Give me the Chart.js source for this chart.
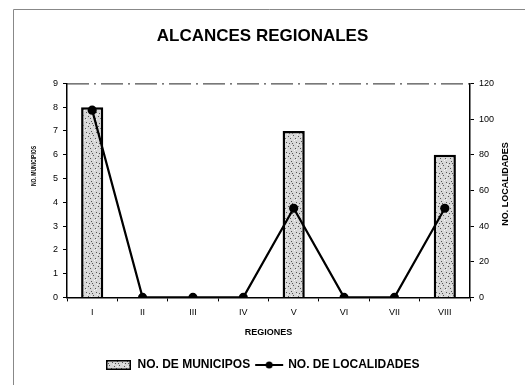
<!DOCTYPE html>
<html>
<head>
<meta charset="utf-8">
<script src="https://cdn.jsdelivr.net/npm/chart.js@4/dist/chart.umd.min.js"></script>
<style>
  html, body { margin: 0; padding: 0; background: #fff; }
  #wrap { width: 525px; height: 385px; position: relative; }
</style>
</head>
<body>
<div id="wrap"><canvas id="display1" width="525" height="385"></canvas></div>
<script>
(function() {
  'use strict';

  // datos de la grafica
  var regiones     = ['I', 'II', 'III', 'IV', 'V', 'VI', 'VII', 'VIII'];
  var municipios   = [8, 0, 0, 0, 7, 0, 0, 6];
  var localidades  = [105, 0, 0, 0, 50, 0, 0, 50];

  var FONT = '"Liberation Sans", Arial, sans-serif';

  // textura punteada de las barras
  function make_pattern() {
    var c = document.createElement('canvas');
    c.width = 10; c.height = 10;
    var g = c.getContext('2d');
    g.fillStyle = '#d8d8d8';
    g.fillRect(0, 0, 10, 10);
    g.fillStyle = '#555';
    var dots = [[1,1],[6,2],[3,5],[8,6],[0,8],[5,8],[9,3],[2,3]];
    for (var i = 0; i < dots.length; i++) g.fillRect(dots[i][0], dots[i][1], 1, 1);
    g.fillStyle = '#f4f4f4';
    var light = [[4,0],[7,4],[1,6],[6,9]];
    for (var j = 0; j < light.length; j++) g.fillRect(light[j][0], light[j][1], 1, 1);
    return g.createPattern(c, 'repeat');
  }

  var pattern = make_pattern();

  // iconos de la leyenda
  var icon_bar = document.createElement('canvas');
  icon_bar.width = 25; icon_bar.height = 10;
  (function() {
    var g = icon_bar.getContext('2d');
    g.fillStyle = pattern; g.fillRect(0, 0, 25, 10);
    g.strokeStyle = '#000'; g.lineWidth = 1.5; g.strokeRect(0.75, 0.75, 23.5, 8.5);
  })();

  var icon_line = document.createElement('canvas');
  icon_line.width = 32; icon_line.height = 10;
  (function() {
    var g = icon_line.getContext('2d');
    g.strokeStyle = '#000'; g.lineWidth = 2;
    g.beginPath(); g.moveTo(2, 5); g.lineTo(30, 5); g.stroke();
    g.fillStyle = '#000';
    g.beginPath(); g.arc(16, 5, 3.5, 0, Math.PI * 2); g.fill();
  })();

  // marco, linea superior punteada y titulos de ejes
  var extras = {
    id: 'extras',
    beforeDraw: function(chart) {
      var ctx = chart.ctx;
      ctx.save();
      ctx.strokeStyle = '#888';
      ctx.lineWidth = 1;
      ctx.beginPath();
      ctx.moveTo(13.5, 385); ctx.lineTo(13.5, 9.5); ctx.lineTo(525, 9.5);
      ctx.stroke();
      ctx.restore();
    },
    afterDraw: function(chart) {
      var ctx = chart.ctx, a = chart.chartArea;
      ctx.save();
      ctx.strokeStyle = '#222';
      ctx.lineWidth = 1;
      ctx.setLineDash([22, 5, 2, 5]);
      ctx.beginPath();
      ctx.moveTo(a.left, a.top + 0.5); ctx.lineTo(a.right, a.top + 0.5);
      ctx.stroke();
      ctx.setLineDash([]);

      ctx.fillStyle = '#000';
      ctx.textAlign = 'center';
      ctx.textBaseline = 'middle';

      // titulo eje izquierdo
      ctx.save();
      ctx.translate(34, 166);
      ctx.rotate(-Math.PI / 2);
      ctx.font = 'bold 7px ' + FONT;
      var w = ctx.measureText('NO. MUNICIPIOS').width;
      ctx.scale(40 / w, 1);
      ctx.fillText('NO. MUNICIPIOS', 0, 0);
      ctx.restore();

      // titulo eje derecho
      ctx.save();
      ctx.translate(506, 184);
      ctx.rotate(-Math.PI / 2);
      ctx.font = 'bold 9px ' + FONT;
      ctx.fillText('NO. LOCALIDADES', 0, 0);
      ctx.restore();

      ctx.restore();
    }
  };

  var tick_font = { family: FONT, size: 9 };

  var ctx = document.getElementById('display1').getContext('2d');

  var myChart = new Chart(ctx, {
    data: {
      labels: regiones,
      datasets: [
        {
          type: 'line',
          label: 'NO. DE LOCALIDADES',
          data: localidades,
          yAxisID: 'y1',
          borderColor: '#000',
          backgroundColor: '#000',
          borderWidth: 2.2,
          pointRadius: 3.5,
          pointBackgroundColor: '#000',
          tension: 0,
          order: 0
        },
        {
          type: 'bar',
          label: 'NO. DE MUNICIPOS',
          data: municipios,
          yAxisID: 'y',
          backgroundColor: pattern,
          borderColor: '#000',
          borderWidth: 2.5,
          barPercentage: 0.44,
          categoryPercentage: 1,
          order: 1
        }
      ]
    },
    options: {
      responsive: false,
      animation: false,
      devicePixelRatio: 1,
      layout: { padding: { left: 0, right: 0, top: 0, bottom: 4 } },
      plugins: {
        title: {
          display: true,
          text: 'ALCANCES REGIONALES',
          color: '#000',
          font: { family: FONT, size: 17, weight: 'bold' },
          padding: { top: 26, bottom: 37 }
        },
        legend: {
          position: 'bottom',
          reverse: true,
          labels: {
            color: '#000',
            font: { family: FONT, size: 12, weight: 'bold' },
            usePointStyle: true,
            pointStyleWidth: 26,
            padding: 6,
            generateLabels: function(chart) {
              var items = Chart.defaults.plugins.legend.labels.generateLabels(chart);
              items.forEach(function(it) {
                it.pointStyle = it.datasetIndex === 1 ? icon_bar : icon_line;
              });
              return items;
            }
          }
        },
        tooltip: { enabled: false }
      },
      scales: {
        x: {
          grid: { display: true, drawOnChartArea: false, color: '#000', tickLength: 4, offset: true },
          border: { color: '#000', width: 1.5 },
          ticks: { color: '#000', font: tick_font, padding: 6 },
          title: { display: true, text: 'REGIONES', color: '#000', font: { family: FONT, size: 9, weight: 'bold' }, padding: { top: 3, bottom: 15 } }
        },
        y: {
          position: 'left',
          min: 0, max: 9,
          grid: { drawOnChartArea: false, color: '#000', tickLength: 4 },
          border: { color: '#000', width: 1.5 },
          ticks: { stepSize: 1, color: '#000', font: tick_font, padding: 5 },
          afterFit: function(scale) { scale.width = 67; }
        },
        y1: {
          position: 'right',
          min: 0, max: 120,
          grid: { drawOnChartArea: false, color: '#000', tickLength: 4 },
          border: { color: '#000', width: 1.5 },
          ticks: { stepSize: 20, color: '#000', font: tick_font, padding: 5 },
          afterFit: function(scale) { scale.width = 55; }
        }
      }
    },
    plugins: [extras]
  });
})();
</script>
</body>
</html>
